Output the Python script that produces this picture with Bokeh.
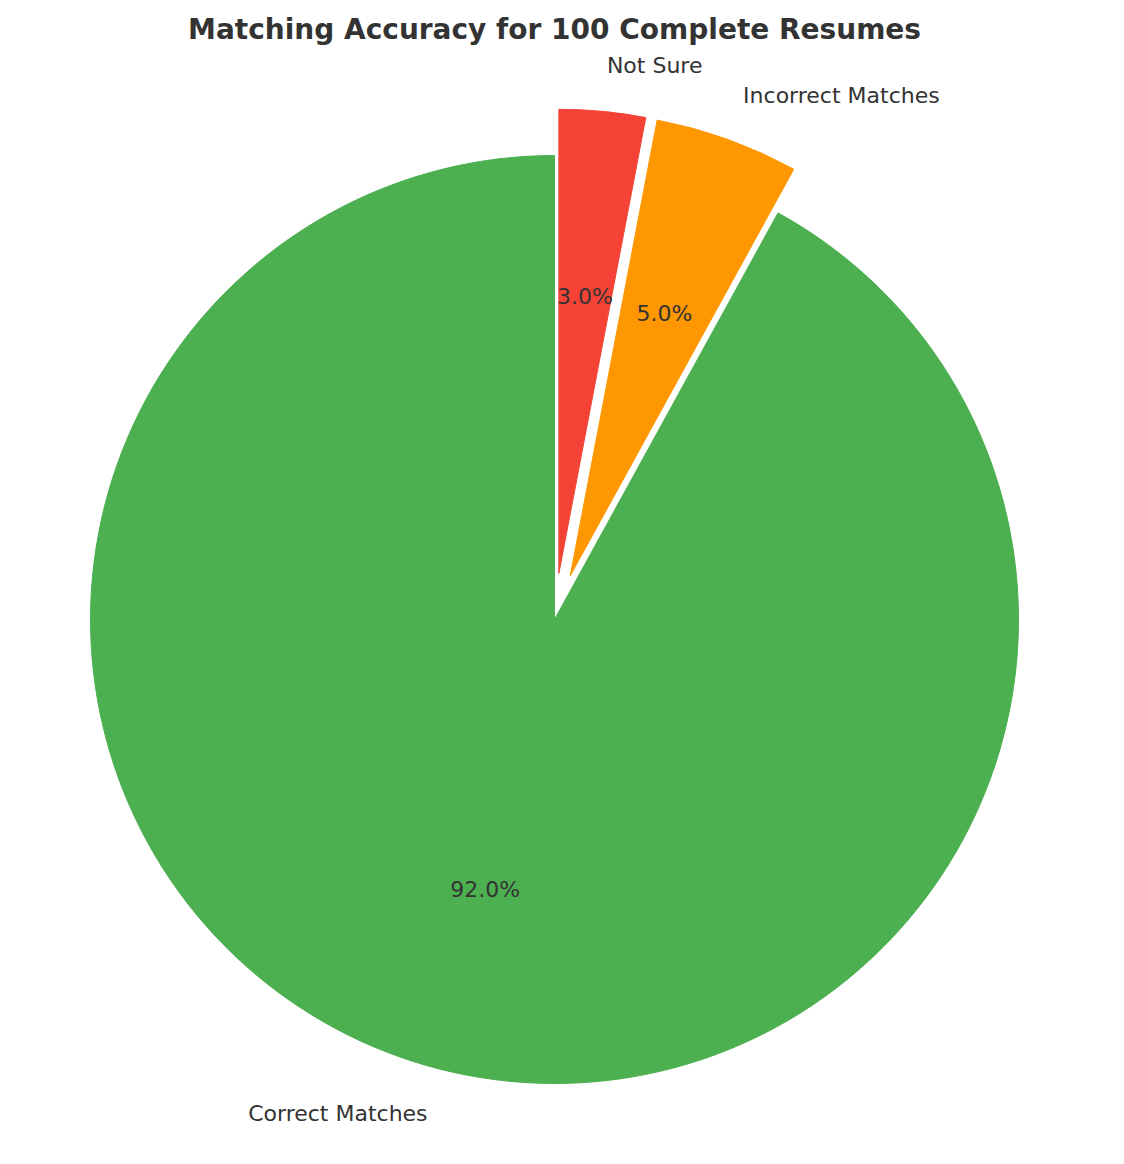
import numpy as np
from bokeh.plotting import figure
from bokeh.models import Range1d, ColumnDataSource
from bokeh.core.properties import value
from bokeh.embed import file_html
from bokeh.resources import INLINE

labels = ["Correct Matches", "Incorrect Matches", "Not Sure"]
values = [92, 5, 3]
colors = ["#4CAF50", "#FF9800", "#F44336"]
explode = [0.0, 0.1, 0.1]
title = "Matching Accuracy for 100 Complete Resumes"

W, H = 1108, 1148
cx, cy, R = 562, 627, 464.0
xr = Range1d((8 - cx) / R, (8 + W - cx) / R)
yr = Range1d((cy - 8 - H) / R, (cy - 8) / R)

p = figure(width=W, height=H, x_range=xr, y_range=yr, output_backend="svg",
           toolbar_location=None, min_border=0)
p.axis.visible = False
p.grid.visible = False
p.outline_line_color = None

vals = np.array(values, dtype=float)
frac = vals / vals.sum()
start = np.pi / 2 + 2 * np.pi * np.concatenate([[0], np.cumsum(frac)[:-1]])
end = start + 2 * np.pi * frac
mid = (start + end) / 2
ex = np.array(explode)
ox = ex * np.cos(mid)
oy = ex * np.sin(mid)

src = ColumnDataSource(dict(x=ox, y=oy, s=start, e=end, c=colors))
p.wedge(x="x", y="y", radius=1.0, start_angle="s", end_angle="e",
        fill_color="c", line_color="c", source=src)

font = value("DejaVu Sans")
for i, lab in enumerate(labels):
    lx = ox[i] + 1.1 * np.cos(mid[i])
    ly = oy[i] + 1.1 * np.sin(mid[i])
    align = "left" if lx > 0 else "right"
    p.text(x=[lx], y=[ly], text=[lab], text_align=align, text_baseline="middle",
           text_font=font, text_font_size="22px", text_color="#333333")
    px = ox[i] + 0.6 * np.cos(mid[i])
    py = oy[i] + 0.6 * np.sin(mid[i])
    p.text(x=[px], y=[py], text=[f"{frac[i]*100:.1f}%"], text_align="center",
           text_baseline="middle", text_font=font, text_font_size="22px",
           text_color="#333333")

p.text(x=[0], y=[(cy - 37) / R], text=[title], text_align="center",
       text_baseline="middle", text_font=font, text_font_size="28px",
       text_font_style="bold", text_color="#333333")

open("out.html", "w").write(file_html(p, INLINE))
